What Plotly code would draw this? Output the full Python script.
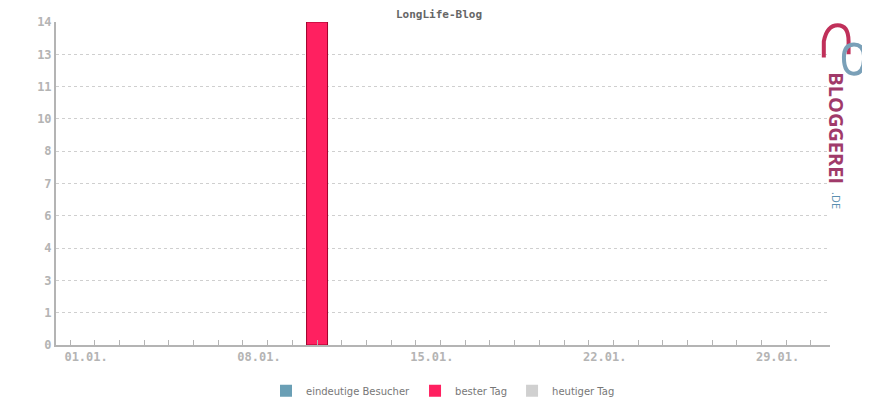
import plotly.graph_objects as go

days = [f"{d:02d}.01." for d in range(1, 32)]
unique_visitors = [0] * 31
best_day = [0] * 31
best_day[10] = 14
today = [0] * 31
y_ticks = [0, 1.4, 2.8, 4.2, 5.6, 7, 8.4, 9.8, 11.2, 12.6, 14]
y_labels = [str(round(v)) for v in y_ticks]
x_labels = {0: "01.01.", 7: "08.01.", 14: "15.01.", 21: "22.01.", 28: "29.01."}

mono = "DejaVu Sans Mono"
grey = "#b4b4b4"
xs = list(range(31))

fig = go.Figure()
fig.add_trace(go.Bar(x=xs, y=unique_visitors, name="eindeutige Besucher",
                     marker=dict(color="#6a9fb5", line=dict(color="#1d4a5e", width=0))))
fig.add_trace(go.Bar(x=xs, y=best_day, name="bester Tag", width=0.85,
                     marker=dict(color="#ff2060", line=dict(
                         color="#a0002a", width=[1 if v else 0 for v in best_day]))))
fig.add_trace(go.Bar(x=xs, y=today, name="heutiger Tag",
                     marker=dict(color="#d0d0d0", line=dict(color="#999", width=0))))

fig.update_layout(
    width=862, height=392, barmode="overlay",
    plot_bgcolor="white", paper_bgcolor="white",
    margin=dict(l=48, r=40, t=14, b=55, autoexpand=False),
    title=dict(text="<b>LongLife-Blog</b>", x=0.5, xanchor="center",
               y=0.995, yanchor="top", automargin=False,
               font=dict(family=mono, size=11, color="#666")),
    legend=dict(orientation="h", x=0.5, xanchor="center", y=-0.142, yanchor="middle",
                font=dict(family="DejaVu Sans", size=10, color="#777"),
                traceorder="normal"),
    showlegend=True,
)
fig.update_xaxes(range=[-0.57, 30.77], tickmode="array",
                 tickvals=list(x_labels.keys()), ticktext=list(x_labels.values()),
                 ticks="inside", ticklen=5, tickcolor=grey, showgrid=False,
                 showline=True, linecolor=grey, linewidth=2, ticklabelshift=16,
                 tickfont=dict(family=mono, size=12, color=grey, weight="bold"),
                 minor=dict(tickmode="linear", tick0=0, dtick=1, ticks="inside",
                            ticklen=5, tickcolor=grey), zeroline=False)
fig.update_yaxes(range=[0, 14], tickmode="array", tickvals=y_ticks, ticktext=y_labels,
                 showgrid=True, gridcolor="#cfcfcf", griddash="dot",
                 showline=True, linecolor=grey, linewidth=2, ticks="",
                 tickfont=dict(family=mono, size=12, color=grey, weight="bold"),
                 zeroline=False)

# Bloggerei logo
fig.add_annotation(xref="paper", yref="paper", x=0.988, y=0.85, xanchor="left", yanchor="top",
                   text="<b>BLOGGEREI</b>", textangle=90, showarrow=False,
                   font=dict(family="Open Sans", size=20, color="#a03a6a"))
fig.add_annotation(xref="paper", yref="paper", x=0.996, y=0.48, xanchor="left", yanchor="top",
                   text=".DE", textangle=90, showarrow=False,
                   font=dict(family="Open Sans", size=11, color="#5a8fb0"))
fig.add_shape(type="path", xref="paper", yref="paper",
              path="M 0.992 0.89 L 0.992 0.94 Q 0.996 0.99 1.01 0.99 Q 1.024 0.99 1.024 0.94 L 1.024 0.90",
              line=dict(color="#c0305a", width=4))
fig.add_shape(type="path", xref="paper", yref="paper",
              path="M 1.018 0.89 Q 1.018 0.93 1.031 0.93 Q 1.044 0.93 1.044 0.89 Q 1.044 0.84 1.031 0.84 Q 1.018 0.84 1.018 0.89",
              line=dict(color="#7aa0b8", width=4))

fig.write_html("out.html")
